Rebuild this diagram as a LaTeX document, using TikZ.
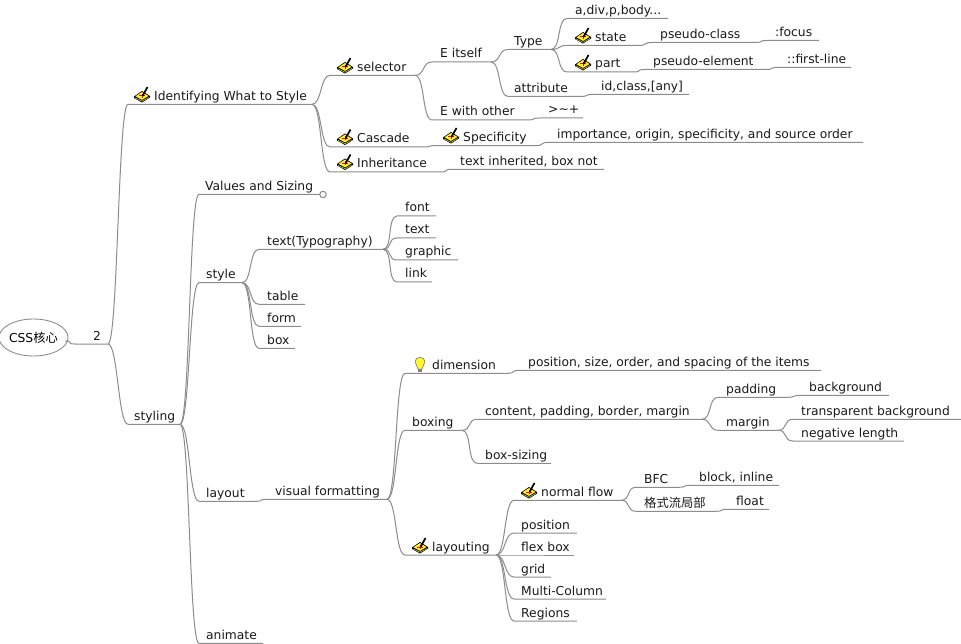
\documentclass[tikz,border=0pt]{standalone}
\usetikzlibrary{shapes.geometric}
\usepackage{fontspec}
\setmainfont{DejaVu Sans}
\newfontfamily\cjk{Noto Sans CJK SC}

% branch: parent, name, line start, text start, line end, line y, text
\newcommand{\branch}[7]{%
  \coordinate (#2-a) at (#3,#6);
  \coordinate (#2-b) at (#5,#6);
  \node[topic] (#2) at (#4,#6-4) {#7};
  \draw[edge] (#1-b) .. controls +(10,0) and +(-10,0) .. (#2-a) -- (#2-b);
}
% pencil on a notepad, 16px wide
\newcommand{\editicon}[2]{%
  \begin{scope}[shift={(#1,#2)}]
    \fill[black] (0,-4) -- (8,-9.5) -- (16,-4.5) -- (16,-3) -- (8,2) -- (0,-2.5) -- cycle;
    \fill[yellow!85!white] (1.5,-4.2) -- (8,-8.5) -- (14.5,-4.5) -- (8,-0.6) -- cycle;
    \fill[yellow!70!black] (1,-3) -- (8,0.3) -- (15,-3.4) -- (15,-2.8) -- (8,1.1) -- (1,-2.3) -- cycle;
    \fill[red] (5,-5) rectangle (10.5,-4);
    \fill[red] (7.5,-6.5) rectangle (8.5,-2.8);
    \draw[black,line width=1.7pt] (8.5,-4.5) -- (13.5,-13.5);
  \end{scope}
}
% light bulb, 14px wide
\newcommand{\bulbicon}[2]{%
  \begin{scope}[shift={(#1,#2)}]
    \fill[yellow!80!white,draw=gray!80!black,line width=0.5pt] (-2,0) .. controls (-2,-3) and (-5,-4) .. (-5,-7.5)
      .. controls (-5,-13) and (5,-13) .. (5,-7.5) .. controls (5,-4) and (2,-3) .. (2,0) -- cycle;
    \fill[gray] (-2,0) rectangle (2,2.6);
  \end{scope}
}

\begin{document}
\begin{tikzpicture}[x=1pt,y=-1pt,font=\fontsize{12.3}{14}\selectfont,
  topic/.style={anchor=base west,inner sep=0pt,text=black!90},
  edge/.style={draw=black!45,line width=1pt}]
\useasboundingbox (0,0) rectangle (961,644);
% ---------- root ----------
\node[draw=black!45,line width=0.9pt,ellipse,minimum width=64pt,minimum height=37pt,inner sep=0pt] (root) at (33.5,337.5) {CSS{\cjk 核心}};
\coordinate (root-b) at (65,341);
\branch{root}{two}{75}{93}{108}{344}{2}
% ---------- first main branch ----------
\branch{two}{ident}{128}{154}{312}{104.3}{Identifying What to Style}
\branch{ident}{selector}{330}{357}{415}{75.3}{selector}
\branch{selector}{itself}{432}{440}{491}{62}{E itself}
\branch{itself}{type}{508}{514}{551}{49.5}{Type}
\branch{type}{names}{567}{575}{668}{18.5}{a,div,p,body...}
\branch{type}{state}{567}{595}{638}{45.5}{state}
\branch{state}{pclass}{652}{660}{755}{42.5}{pseudo-class}
\branch{pclass}{focus}{767}{775}{819}{40.5}{:focus}
\branch{type}{part}{567}{595}{633}{72}{part}
\branch{part}{pelement}{645}{653}{765}{69.5}{pseudo-element}
\branch{pelement}{firstline}{779}{787}{851}{67.3}{::first-line}
\branch{itself}{attribute}{508}{514}{580}{96.5}{attribute}
\branch{attribute}{idclass}{593}{601}{689}{94.5}{id,class,[any]}
\branch{selector}{other}{432}{440}{527}{120}{E with other}
\branch{other}{combine}{540}{548}{583}{118}{>\textasciitilde+}
\branch{ident}{cascade}{330}{357}{423}{147}{Cascade}
\branch{cascade}{special}{435}{463}{535}{145.7}{Specificity}
\branch{special}{order}{549}{557}{863}{142.3}{importance, origin, specificity, and source order}
\branch{ident}{inherit}{330}{357}{440}{172}{Inheritance}
\branch{inherit}{inbox}{452}{460}{604}{169.3}{text inherited, box not}
% ---------- styling ----------
\branch{two}{styling}{128}{134}{180}{424.3}{styling}
\branch{styling}{values}{199}{205}{320}{194.3}{Values and Sizing}
\node[circle,draw=black!45,line width=1pt,fill=white,minimum size=6.5pt,inner sep=0pt] (fold) at (323,194.5) {};
\branch{styling}{style}{199}{206}{242}{282.7}{style}
\branch{style}{typo}{259}{267}{383}{249.3}{text(Typography)}
\branch{typo}{font}{397}{405}{436}{216}{font}
\branch{typo}{text}{397}{405}{436}{238}{text}
\branch{typo}{graphic}{397}{405}{458}{260}{graphic}
\branch{typo}{link}{397}{405}{432}{282}{link}
\branch{style}{table}{259}{267}{305}{304.3}{table}
\branch{style}{form}{259}{267}{301}{326.3}{form}
\branch{style}{box}{259}{267}{295}{348.3}{box}
% ---------- layout ----------
\branch{styling}{layout}{199}{206}{255}{501.3}{layout}
\branch{layout}{visual}{267}{275}{387}{499.3}{visual formatting}
\branch{visual}{dimension}{405}{432}{507}{373.3}{dimension}
\branch{dimension}{items}{520}{528}{821}{370.3}{position, size, order, and spacing of the items}
\branch{visual}{boxing}{405}{412}{462}{430.3}{boxing}
\branch{boxing}{content}{477}{485}{702}{419.3}{content, padding, border, margin}
\branch{content}{padding}{718}{726}{787}{397.3}{padding}
\branch{padding}{background}{801}{809}{889}{395.3}{background}
\branch{content}{margin}{718}{726}{778}{430.3}{margin}
\branch{margin}{transparent}{793}{801}{961}{419.3}{transparent background}
\branch{margin}{negative}{793}{801}{904}{441}{negative length}
\branch{boxing}{sizing}{477}{485}{551}{463.3}{box-sizing}
\branch{visual}{layouting}{405}{432}{496}{555}{layouting}
\branch{layouting}{flow}{514}{541}{621}{500.3}{normal flow}
\branch{flow}{bfc}{636}{644}{678}{487.3}{BFC}
\branch{bfc}{inline}{691}{699}{779}{485.3}{block, inline}
\branch{flow}{local}{636}{644}{715}{511.3}{{\cjk 格式流局部}}
\branch{local}{float}{728}{736}{769}{509.3}{float}
\branch{layouting}{position}{514}{521}{577}{533}{position}
\branch{layouting}{flex}{514}{521}{574}{555}{flex box}
\branch{layouting}{grid}{514}{521}{551}{577}{grid}
\branch{layouting}{multi}{514}{521}{606}{599}{Multi-Column}
\branch{layouting}{regions}{514}{521}{577}{621}{Regions}
% ---------- animate ----------
\branch{styling}{animate}{199}{206}{263}{643.3}{animate}
% ---------- icons ----------
\editicon{134}{100.5}
\editicon{337}{71.5}
\editicon{337}{143}
\editicon{337}{168}
\editicon{443}{141.5}
\editicon{575}{41.5}
\editicon{575}{68.5}
\editicon{412}{551.5}
\editicon{521}{496.5}
\bulbicon{420}{369}
\end{tikzpicture}
\end{document}
